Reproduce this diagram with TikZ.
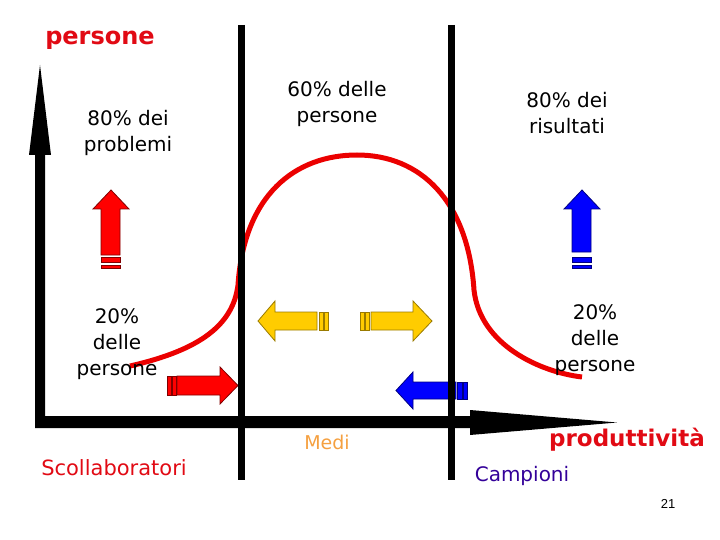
\documentclass[tikz,border=0pt]{standalone}
\usepackage{fontspec}
\setmainfont{DejaVu Sans}
\newfontfamily\numfont{Liberation Sans}
\usetikzlibrary{positioning}
\definecolor{curvered}{RGB}{235,0,0}
\definecolor{labred}{RGB}{225,10,20}
\definecolor{arrred}{RGB}{255,0,0}
\definecolor{arrblue}{RGB}{0,0,255}
\definecolor{arryel}{RGB}{255,204,0}
\definecolor{medicol}{RGB}{245,160,64}
\definecolor{campcol}{RGB}{51,0,153}

\begin{document}
\begin{tikzpicture}[x=1pt, y=-1pt, font=\fontsize{20}{26}\selectfont]
\tikzstyle{lab}=[align=center, inner sep=0pt]
\tikzstyle{redarr}=[fill=arrred, draw=arrred!50!black, line width=0.8pt]
\tikzstyle{bluearr}=[fill=arrblue, draw=arrblue!50!black, line width=0.8pt]
\tikzstyle{yelarr}=[fill=arryel, draw=arryel!60!black, line width=0.8pt]
\tikzstyle{divider}=[line width=7pt]
\useasboundingbox (0,0) rectangle (720,540);

% bell curve
\draw[curvered, line width=5pt] (130,366) .. controls (200,350) and (233,325) .. (238,285)
  .. controls (244,195) and (295,155) .. (357,155)
  .. controls (420,155) and (468,200) .. (474,290)
  .. controls (480,345) and (540,372) .. (582,377);

% block arrows
\draw[redarr] (101,255) -- (101,209) -- (93,209) -- (111,190) -- (129,209) -- (120,209) -- (120,255) -- cycle;
\draw[redarr] (101,257) rectangle (120,262);
\draw[redarr] (101,265) rectangle (120,268);

\draw[bluearr] (572,252) -- (572,209) -- (564,209) -- (582,190) -- (600,209) -- (591,209) -- (591,252) -- cycle;
\draw[bluearr] (572,257) rectangle (591,262);
\draw[bluearr] (572,265) rectangle (591,268);

\draw[yelarr] (317,312) -- (275,312) -- (275,301) -- (258,321) -- (275,341) -- (275,330) -- (317,330) -- cycle;
\draw[yelarr] (319,312) rectangle (323,330);
\draw[yelarr] (324,312) rectangle (328,330);

\draw[yelarr] (371,312) -- (413,312) -- (413,301) -- (432,321) -- (413,341) -- (413,330) -- (371,330) -- cycle;
\draw[yelarr] (360,312) rectangle (364,330);
\draw[yelarr] (365,312) rectangle (369,330);

\draw[redarr] (177,376) -- (220,376) -- (220,367) -- (238,385.5) -- (220,404) -- (220,395) -- (177,395) -- cycle;
\draw[redarr] (167,376) rectangle (171,395);
\draw[redarr] (172,376) rectangle (176,395);

\draw[bluearr] (456,382) -- (413,382) -- (413,372) -- (396,390.5) -- (413,409) -- (413,399) -- (456,399) -- cycle;
\draw[bluearr] (457,382) rectangle (462,399);
\draw[bluearr] (463,382) rectangle (467,399);

% dividers
\draw[divider] (241.5,25) -- (241.5,480);
\draw[divider] (451,25) -- (451,480);

% axes
\fill (35,428) -- (35,155) -- (29,155) -- (40,65) -- (51,155) -- (45,155) -- (45,416) -- (470,416) -- (470,410) -- (617,422.5) -- (470,435) -- (470,428) -- cycle;

% labels
\node[lab, labred, font=\fontsize{24}{28}\selectfont\bfseries] (yaxis) at (100,40) {persone};
\node[lab, labred, font=\fontsize{23}{28}\selectfont\bfseries] (xaxis) at (627,440) {produttività};
\node[lab] (probl) at (128,133) {80\% dei\\problemi};
\node[lab] (medpers) at (337,104) {60\% delle\\persone};
\node[lab] (risult) at (567,113) {80\% dei\\risultati};
\node[lab] (lowpers) at (117,344) {20\%\\delle\\persone};
\node[lab] (toppers) at (595,340) {20\%\\delle\\persone};
\node[lab, labred, font=\fontsize{21}{26}\selectfont] (scoll) at (114,468) {Scollaboratori};
\node[lab, medicol, font=\fontsize{19}{24}\selectfont] (medi) at (327,442) {Medi};
\node[lab, campcol] (camp) at (522,476) {Campioni};
\node[lab, font=\fontsize{13}{15}\selectfont\numfont] (pagenum) at (668,504) {21};
\end{tikzpicture}
\end{document}
